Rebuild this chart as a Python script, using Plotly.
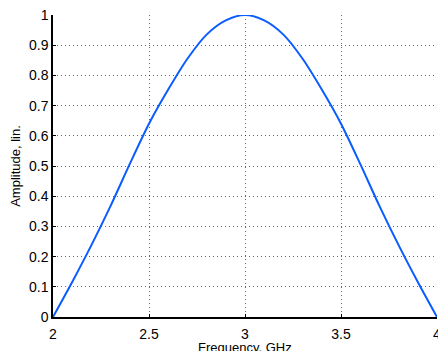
import plotly.graph_objects as go

freq_ghz = [2.0, 2.1, 2.2, 2.3, 2.4, 2.5, 2.6, 2.7, 2.8, 2.9, 3.0,
            3.1, 3.2, 3.3, 3.4, 3.5, 3.6, 3.7, 3.8, 3.9, 4.0]
amplitude = [0.0, 0.116, 0.238, 0.368, 0.507, 0.640, 0.753, 0.855, 0.935, 0.982, 1.0,
             0.982, 0.935, 0.855, 0.753, 0.640, 0.507, 0.368, 0.238, 0.116, 0.0]
x_ticks = [2, 2.5, 3, 3.5, 4]
x_tick_labels = ["2", "2.5", "3", "3.5", "4"]
y_ticks = [0, 0.1, 0.2, 0.3, 0.4, 0.5, 0.6, 0.7, 0.8, 0.9, 1]
y_tick_labels = ["0", "0.1", "0.2", "0.3", "0.4", "0.5", "0.6", "0.7", "0.8", "0.9", "1"]
x_title = "Frequency, GHz"
y_title = "Amplitude, lin."

fig = go.Figure()
fig.add_trace(go.Scatter(
    x=freq_ghz, y=amplitude, mode="lines",
    line=dict(color="#0a5cff", width=2, shape="spline", smoothing=0.8),
    showlegend=False, hoverinfo="skip", cliponaxis=False,
))

font = dict(family="Liberation Sans, Arial, Helvetica, sans-serif", size=14, color="black")
grid = dict(showgrid=True, gridcolor="rgba(0,0,0,0.6)", gridwidth=1, griddash="1px,3px")

fig.update_layout(
    width=438, height=351,
    margin=dict(l=53, r=1, t=15, b=34, autoexpand=False),
    paper_bgcolor="white", plot_bgcolor="white",
    font=font,
    xaxis=dict(
        range=[2, 4], tickvals=x_ticks, ticktext=x_tick_labels,
        showline=True, linecolor="black", linewidth=1.5, mirror=False,
        ticks="inside", ticklen=3, tickcolor="black", zeroline=False,
        ticklabeloverflow="allow", ticklabelstandoff=3,
        automargin=False, **grid,
    ),
    yaxis=dict(
        range=[0, 1], tickvals=y_ticks, ticktext=y_tick_labels,
        showline=True, linecolor="black", linewidth=1.5, mirror=False,
        ticks="inside", ticklen=3, tickcolor="black", zeroline=False,
        ticklabeloverflow="allow",
        title=dict(text=y_title, font=dict(size=13), standoff=5),
        automargin=False, **grid,
    ),
    annotations=[dict(
        text=x_title, xref="x", x=3, yref="paper", y=0,
        yanchor="top", yshift=-21, showarrow=False,
        font=dict(size=13),
    )],
)

fig.write_html(
    "out.html",
    config={"displayModeBar": False},
    post_script="document.body.style.margin='0';document.body.style.overflow='hidden';",
)
